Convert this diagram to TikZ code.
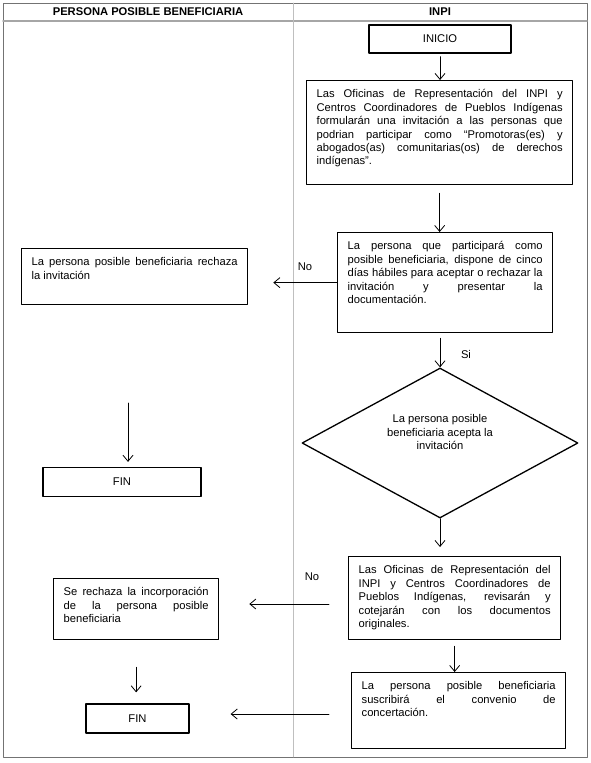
\documentclass[tikz,border=0pt]{standalone}
\usepackage{fontspec}
\setmainfont{Liberation Sans}
\usepackage{pgf,tikz}
\usetikzlibrary{arrows.meta}
\usetikzlibrary{shapes.geometric}
\newcommand{\caja}[3]{\parbox[c][#2][t]{#1}{#3}}

\begin{document}
\begin{tikzpicture}[line cap=round,line join=round,>={Straight Barb[length=6pt,width=10pt]},x=1pt,y=-1pt,
  font=\fontsize{11.2}{13.4}\selectfont,
  caja/.style={draw,line width=1.3pt,anchor=north west,inner xsep=10pt,inner ysep=9pt},
  term/.style={draw,line width=1.3pt,inner sep=0pt},
  decision/.style={draw,diamond,line width=1.3pt,inner sep=0pt,minimum width=276pt,minimum height=150pt},
  flecha/.style={->,line width=0.8pt}]
\useasboundingbox (0,0) rectangle (590,763);
%\clip (0,0) rectangle (590,763);
\draw [line width=1pt,color=black!55] (3,3) rectangle (587,757);
\draw [line width=1.5pt,color=black!35] (3,21)-- (587,21);
\draw [line width=0.6pt,color=black!25] (293,3)-- (293,757);
\node [font=\fontsize{11.2}{13.4}\selectfont\bfseries] (h1) at (148,12) {PERSONA POSIBLE BENEFICIARIA};
\node [font=\fontsize{11.2}{13.4}\selectfont\bfseries] (h2) at (440,12) {INPI};
\node [term,minimum width=142pt,minimum height=28pt] (inicio) at (440,39) {INICIO};
\node [caja] (b2) at (306,80) {\caja{246pt}{86pt}{Las Oficinas de Representación del INPI y\linebreak Centros Coordinadores de Pueblos Indígenas\linebreak formularán una invitación a las personas que\linebreak podrian participar como “Promotoras(es) y\linebreak abogados(as) comunitarias(os) de derechos\linebreak indígenas”.}};
\node [caja] (b3) at (337,232) {\caja{195pt}{82pt}{La persona que participará como\linebreak posible beneficiaria, dispone de cinco\linebreak días hábiles para aceptar o rechazar la\linebreak invitación y presentar la\linebreak documentación.}};
\node [caja] (rech) at (21,248) {\caja{206pt}{38pt}{La persona posible beneficiaria rechaza\linebreak la invitación}};
\node [term,minimum width=158pt,minimum height=29pt] (fin1) at (122,482) {FIN};
\node [decision] (dec) at (440,443) {};
\node [align=center] (dectxt) at (440,432) {La persona posible\\beneficiaria acepta la\\invitación};
\node [caja] (b5) at (348,556) {\caja{192pt}{65pt}{Las Oficinas de Representación del\linebreak INPI y Centros Coordinadores de\linebreak Pueblos Indígenas, revisarán y\linebreak cotejarán con los documentos\linebreak originales.}};
\node [caja] (rinc) at (53,578) {\caja{145pt}{43pt}{Se rechaza la incorporación\linebreak de la persona posible\linebreak beneficiaria}};
\node [caja] (b6) at (351,672) {\caja{194pt}{58pt}{La persona posible beneficiaria\linebreak suscribirá el convenio de\linebreak concertación.}};
\node [term,minimum width=103pt,minimum height=29pt] (fin2) at (137.5,718.5) {FIN};
\node (no1) at (305,267) {No};
\node (si) at (466,354) {Si};
\node (no2) at (312,577) {No};
\coordinate (a1) at (128,403);
\coordinate (n2) at (329,604);
\coordinate (n3) at (329,714);
\draw [flecha,shorten <=3pt] (inicio.south) -- (inicio.south |- b2.north);
\draw [flecha,shorten <=8pt] (b2.south) -- (b2.south |- b3.north);
\draw [flecha,shorten >=25pt] (b3.west) -- (b3.west -| rech.east);
\draw [flecha,shorten >=5pt] (a1) -- (a1 |- fin1.north);
\draw [flecha,shorten <=5pt] (b3.south -| dec.north) -- (dec.north);
\draw [flecha,shorten >=9pt] (dec.south) -- (dec.south |- b5.north);
\draw [flecha,shorten >=30pt] (n2) -- (n2 -| rinc.east);
\draw [flecha,shorten <=27pt,shorten >=11pt] (rinc.south) -- (rinc.south |- fin2.north);
\draw [flecha,shorten <=6pt] (b5.south) -- (b5.south |- b6.north);
\draw [flecha,shorten >=41pt] (n3) -- (n3 -| fin2.east);
\end{tikzpicture}
\end{document}
